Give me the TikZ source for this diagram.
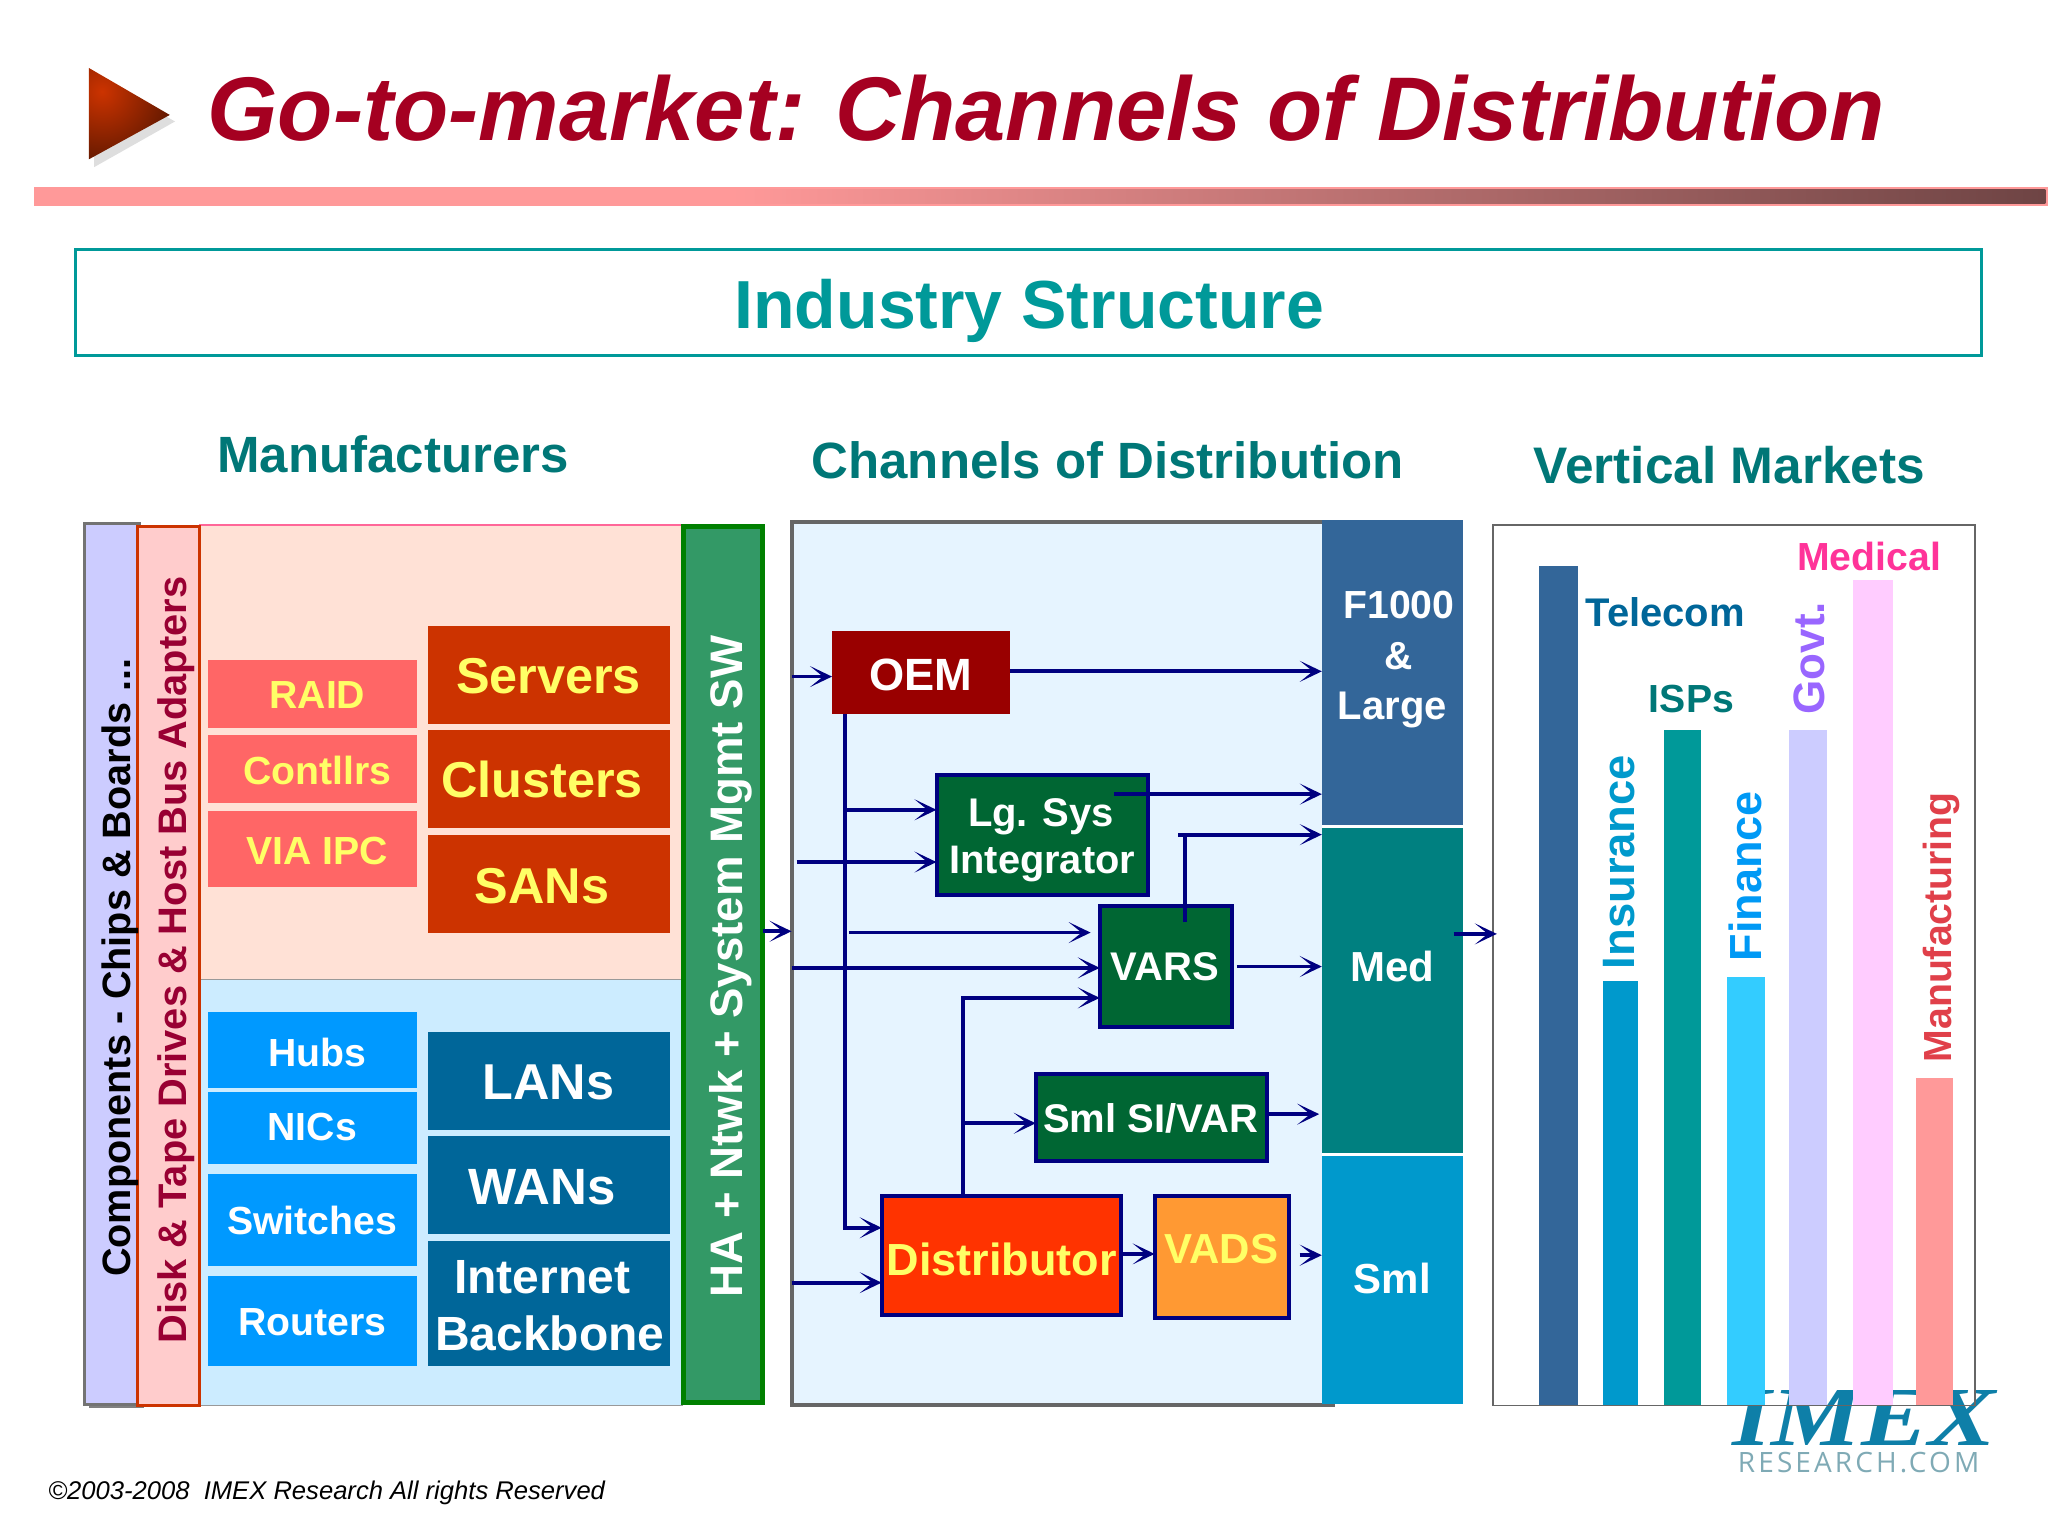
\documentclass[tikz,border=0pt]{standalone}
\usepackage{fontspec}
\setmainfont{Liberation Sans}
\newfontfamily\logoserif{Liberation Serif}
\newfontfamily\logosans[LetterSpace=11]{Open Sans}
\usetikzlibrary{arrows.meta,calc}
\definecolor{titlered}{HTML}{A50021}
\definecolor{tealhead}{HTML}{007777}
\definecolor{tealbox}{HTML}{009999}
\definecolor{navy}{HTML}{000080}
\definecolor{yel}{HTML}{FFFF66}
\definecolor{salmon}{HTML}{FF6666}
\definecolor{rust}{HTML}{CC3300}
\definecolor{sky}{HTML}{0099FF}
\definecolor{deepblue}{HTML}{006699}
\definecolor{fblue}{HTML}{336699}
\definecolor{medteal}{HTML}{008080}
\definecolor{smlblue}{HTML}{0099CC}
\definecolor{dgreen}{HTML}{006633}
\definecolor{barpink}{HTML}{FF9999}
\definecolor{bardark}{HTML}{6E4444}
\definecolor{wine}{HTML}{990033}
\tikzset{
  bx/.style={rectangle,inner sep=0pt,outer sep=0pt,draw=none},
  navybox/.style={draw=navy,line width=2pt},
  arr/.style={draw=navy,line width=1.9pt,-{Stealth[length=11pt,width=10.5pt,inset=6.5pt]}},
  ln/.style={draw=navy,line width=1.9pt},
  lbl/.style={inner sep=0pt,outer sep=0pt,align=center}
}
\newcommand\Bx[6][]{%
  \pgfmathsetmacro\bxw{(#5-#3)*0.65306}%
  \pgfmathsetmacro\bxh{(#6-#4)*0.65306}%
  \pgfmathsetmacro\bxx{(#3+#5)/2}%
  \pgfmathsetmacro\bxy{(#4+#6)/2}%
  \node[bx,minimum width=\bxw pt,minimum height=\bxh pt,#1] (#2) at (\bxx,\bxy) {};}
\newcommand\Tx[7][]{%
  \pgfmathsetmacro\txh{0.72*#5}%
  \node[lbl,text=#6,text height=\txh pt,text depth=0pt,font=\fontsize{#5}{#5}\selectfont\bfseries,#1] (#2) at (#3,#4) {#7};}
\begin{document}
\begin{tikzpicture}[x=0.65306pt,y=-0.65306pt]
\useasboundingbox (0,0) rectangle (1568,1176);
% title
\fill[black!13] (72,58) -- (134,93) -- (72,128) -- cycle;
\begin{scope}
  \clip (68,52) -- (130,88) -- (68,122) -- cycle;
  \shade[inner color=rust,outer color=black!40!rust!70!black] (78,70) circle (62);
\end{scope}
\Tx{title}{801}{83}{45.2}{titlered}{\itshape Go-to-market:\hspace{-.04em} Channels of Distribution}
\fill[barpink] (26,143) rectangle (1568,158);
\shade[left color=barpink,right color=bardark] (560,145) rectangle (1566,156);
\Bx[draw=tealbox,line width=1.4pt,fill=white]{hdr}{58}{191}{1517}{272}
\Tx{hdrt}{788}{233}{34}{tealbox}{Industry Structure}
\Tx{hm}{301}{348}{25.5}{tealhead}{Manufacturers}
\Tx{hc}{848}{352}{25.5}{tealhead}{Channels of Distribution}
\Tx{hv}{1324}{356}{25.7}{tealhead}{Vertical Markets}
% manufacturers
\fill[gray] (68,404) rectangle (110,1078);
\Bx[fill={rgb,255:red,204;green,204;blue,255},draw=black!55,line width=1.4pt]{comp}{65}{401}{107}{1075}
\Bx[fill={rgb,255:red,255;green,225;blue,214},draw={rgb,255:red,255;green,102;blue,153},line width=1.1pt]{upper}{153}{402}{522}{750}
\Bx[fill={rgb,255:red,204;green,236;blue,255},draw=black!40,line width=.8pt]{lower}{153}{750}{522}{1076}
\Bx[fill={rgb,255:red,255;green,204;blue,204},draw=rust,line width=1.4pt]{disk}{105}{403}{153}{1076}
\Tx[rotate=90]{compt}{89}{741}{19.8}{black}{Components - Chips \& Boards ...}
\Tx[rotate=90]{diskt}{132}{735}{19.9}{wine}{Disk \& Tape Drives \& Host Bus Adapters}
\Bx[fill=salmon]{raid}{159}{505}{319}{557}
\Bx[fill=salmon]{contl}{159}{563}{319}{615}
\Bx[fill=salmon]{via}{159}{621}{319}{679}
\Tx{raidt}{243}{532}{19.6}{yel}{RAID}
\Tx{contlt}{243}{590}{19.6}{yel}{Contllrs}
\Tx{viat}{243}{651}{19.6}{yel}{VIA IPC}
\Bx[fill=rust]{serv}{328}{479}{513}{554}
\Bx[fill=rust]{clus}{328}{559}{513}{634}
\Bx[fill=rust]{sans}{328}{639}{513}{714}
\Tx{servt}{420}{517}{25.2}{yel}{Servers}
\Tx{clust}{415}{597}{25.2}{yel}{Clusters}
\Tx{sanst}{415}{678}{25.2}{yel}{SANs}
\Bx[fill=sky]{hubs}{159}{775}{319}{833}
\Bx[fill=sky]{nics}{159}{836}{319}{891}
\Bx[fill=sky]{swit}{159}{899}{319}{969}
\Bx[fill=sky]{rout}{159}{977}{319}{1046}
\Tx{hubst}{243}{806}{19.6}{white}{Hubs}
\Tx{nicst}{239}{862}{19.6}{white}{NICs}
\Tx{switt}{239}{934}{19.6}{white}{Switches}
\Tx{routt}{239}{1012}{19.6}{white}{Routers}
\Bx[fill=deepblue]{lans}{328}{790}{513}{865}
\Bx[fill=deepblue]{wans}{328}{870}{513}{945}
\Bx[fill=deepblue]{inet}{328}{950}{513}{1046}
\Tx{lanst}{420}{828}{25.2}{white}{LANs}
\Tx{wanst}{415}{908}{25.5}{white}{WANs}
\Tx{inett}{415}{977}{24}{white}{Internet}
\Tx{bbt}{421}{1021}{24}{white}{Backbone}
\Bx[fill={rgb,255:red,51;green,153;blue,102},draw={rgb,255:red,0;green,128;blue,0},line width=2.6pt]{ha}{523}{403}{584}{1074}
\Tx[rotate=90]{hat}{556}{740}{22.8}{white}{HA + Ntwk + System Mgmt SW}
% channels
\Bx[fill={rgb,255:red,230;green,244;blue,255}]{chan}{606}{400}{1012}{1076}
\coordinate (chanend) at (1022,1076);
\draw[black!60,line width=2pt] (chan.north east) -- (chan.north west) -- (chan.south west) -- (chanend);
\Bx[fill=fblue]{large}{1012}{398}{1120}{632}
\Bx[fill=medteal]{med}{1012}{634}{1120}{883}
\Bx[fill=smlblue]{sml}{1012}{885}{1120}{1075}
\Tx{f1}{1071}{463}{19.6}{white}{F1000}
\Tx{f2}{1071}{502}{19.6}{white}{\&}
\Tx{f3}{1066}{540}{20}{white}{Large}
\Tx{medt}{1066}{740}{21}{white}{Med}
\Tx{smlt}{1066}{979}{21}{white}{Sml}
\Bx[fill={rgb,255:red,153;green,0;blue,0}]{oem}{637}{483}{773}{547}
\Bx[fill=dgreen,navybox]{lg}{717}{593}{879}{685}
\Bx[fill=dgreen,navybox]{vars}{842}{694}{943}{786}
\Bx[fill=dgreen,navybox]{si}{793}{822}{970}{889}
\Bx[fill={rgb,255:red,255;green,51;blue,0},navybox]{dist}{675}{916}{858}{1007}
\Bx[fill={rgb,255:red,255;green,153;blue,51},navybox]{vads}{884}{916}{987}{1009}
\Tx{oemt}{705}{516}{22.6}{white}{OEM}
\Tx{lgt}{797}{622}{20}{white}{Lg. Sys}
\Tx{intt}{798}{658}{19.9}{white}{Integrator}
\Tx{varst}{892}{740}{20}{white}{VARS}
\Tx{sit}{881}{856}{20}{white}{Sml SI/VAR}
\Tx{distt}{767}{964}{22.5}{yel}{Distributor}
\Tx{vadst}{935}{956}{21}{yel}{VADS}
% connectors
\draw[arr] (ha.east |- 0,713) -- (chan.west |- 0,713);
\draw[arr] (chan.west |- 0,518) -- (oem.west |- 0,518);
\draw[arr] (oem.east |- 0,514) -- (large.west |- 0,514);
\draw[arr] (oem.south -| 647,0) -- (647,940) -- (dist.west |- 0,940);
\draw[arr] (647,620) -- (lg.west |- 0,620);
\draw[arr] (610,660) -- (lg.west |- 0,660);
\draw[arr] (853,608) -- (large.west |- 0,608);
\draw[ln] (907,706) -- (907,639);
\draw[arr] (902,639) -- (med.west |- 0,639);
\draw[arr] (650,714) -- (835,714);
\draw[arr] (chan.west |- 0,741) -- (vars.west |- 0,741);
\draw[arr] (dist.north -| 737,0) -- (737,764) -- (vars.west |- 0,764);
\draw[arr] (737,860) -- (si.west |- 0,860);
\draw[arr] (947,740) -- (med.west |- 0,740);
\draw[arr] (si.east |- 0,853) -- (1010,853);
\draw[arr] (chan.west |- 0,982) -- (dist.west |- 0,982);
\draw[arr] (dist.east |- 0,960) -- (vads.west |- 0,960);
\draw[arr] (995,961) -- (sml.west |- 0,961);
% logo and vertical markets
\node[lbl,text={rgb,255:red,14;green,127;blue,168},text height=28pt,text depth=0pt,font=\logoserif\fontsize{42}{42}\selectfont\itshape\bfseries,xscale=1.2] (logo) at (1427,1085) {IMEX};
\node[lbl,text={rgb,255:red,127;green,170;blue,181},text height=10pt,text depth=0pt,font=\logosans\fontsize{14}{14}\selectfont] (logob) at (1423,1120) {RESEARCH.COM};
\Bx[draw=black!60,line width=.8pt]{vm}{1143}{402}{1512}{1076}
\Bx[fill=fblue]{b1}{1178}{433}{1208}{1076}
\Bx[fill=smlblue]{b2}{1227}{751}{1254}{1076}
\Bx[fill=tealbox]{b3}{1274}{559}{1302}{1076}
\Bx[fill={rgb,255:red,51;green,204;blue,255}]{b4}{1322}{748}{1351}{1076}
\Bx[fill={rgb,255:red,204;green,204;blue,255}]{b5}{1370}{559}{1399}{1076}
\Bx[fill={rgb,255:red,255;green,204;blue,255}]{b6}{1419}{444}{1449}{1076}
\Bx[fill={rgb,255:red,255;green,153;blue,153}]{b7}{1467}{825}{1495}{1076}
\draw[arr] (med.east |- 0,715) ++(-7,0) -- ($(vm.west |- 0,715)+(3,0)$);
\Tx{telt}{1275}{469}{20}{deepblue}{Telecom}
\Tx[rotate=90]{inst}{1239}{660}{22.7}{smlblue}{Insurance}
\Tx{ispt}{1295}{535}{19.6}{tealhead}{ISPs}
\Tx[rotate=90]{fint}{1336}{671}{22.5}{sky!80!smlblue}{Finance}
\Tx[rotate=90]{govt}{1385}{504}{22}{{rgb,255:red,153;green,102;blue,255}}{Govt.}
\Tx{medit}{1431}{426}{19.6}{{rgb,255:red,255;green,51;blue,153}}{Medical}
\Tx[rotate=90]{mant}{1483}{710}{19.6}{{rgb,255:red,224;green,64;blue,74}}{Manufacturing}
\node[lbl,anchor=west,font=\fontsize{12.8}{12.8}\selectfont\itshape] (copy) at (37,1143) {©2003-2008\ \ IMEX Research All rights Reserved};
\end{tikzpicture}
\end{document}
